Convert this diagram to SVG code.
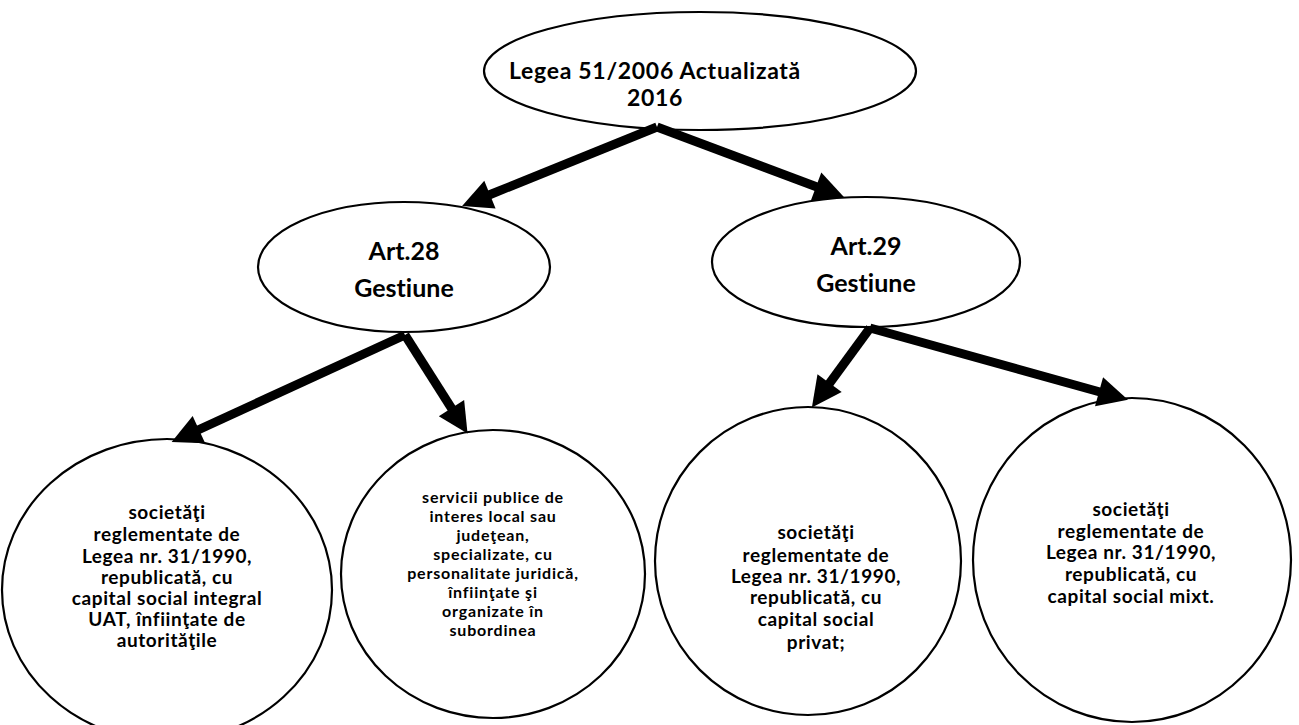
<svg xmlns="http://www.w3.org/2000/svg" width="1299" height="725" viewBox="0 0 1299 725">
<style>
.n{fill:#fff;stroke:#000;stroke-width:2.2}
.t{font-family:Lato,"Liberation Sans",sans-serif;font-weight:bold;fill:#000;text-anchor:middle;font-variant-ligatures:none}
.s{font-size:19px;letter-spacing:0.6px}
.c{stroke:#000;stroke-width:9;fill:none;marker-end:url(#ah)}
</style>
<defs>
<marker id="ah" markerUnits="userSpaceOnUse" markerWidth="32" markerHeight="32" viewBox="0 0 32 32" refX="1" refY="16" orient="auto" overflow="visible">
<path d="M0,1 L30,16 L0,31 z" fill="#000"/>
</marker>
</defs>
<rect width="1299" height="725" fill="#fff"/>
<g id="root">
<ellipse class="n" cx="700" cy="71" rx="216" ry="59"/>
<text class="t" x="655" y="79" font-size="23" letter-spacing="0.7">Legea 51/2006 Actualizată</text>
<text class="t" x="655" y="106" font-size="23" letter-spacing="0.7">2016</text>
</g>
<g id="art28">
<ellipse class="n" cx="404" cy="267" rx="146" ry="65"/>
<text class="t" x="404" y="260" font-size="25">Art.28</text>
<text class="t" x="404" y="297" font-size="25">Gestiune</text>
</g>
<g id="art29">
<ellipse class="n" cx="866" cy="262" rx="154" ry="65"/>
<text class="t" x="866" y="255" font-size="25">Art.29</text>
<text class="t" x="866" y="292" font-size="25">Gestiune</text>
</g>
<g id="c1">
<ellipse class="n" cx="167" cy="590" rx="165" ry="151"/>
<g class="t s">
<text x="167" y="519">societăţi</text>
<text x="167" y="541">reglementate de</text>
<text x="167" y="563">Legea nr. 31/1990,</text>
<text x="167" y="584">republicată, cu</text>
<text x="167" y="605">capital social integral</text>
<text x="167" y="626">UAT, înfiinţate de</text>
<text x="167" y="647">autorităţile</text>
</g>
</g>
<g id="c2">
<ellipse class="n" cx="493" cy="574" rx="152" ry="144"/>
<g class="t" font-size="16" letter-spacing="0.8">
<text x="493" y="503">servicii publice de</text>
<text x="493" y="522">interes local sau</text>
<text x="493" y="541">judeţean,</text>
<text x="493" y="560">specializate, cu</text>
<text x="493" y="579">personalitate juridică,</text>
<text x="493" y="598">înfiinţate şi</text>
<text x="493" y="617">organizate în</text>
<text x="493" y="636">subordinea</text>
</g>
</g>
<g id="c3">
<ellipse class="n" cx="808" cy="561" rx="153" ry="154"/>
<g class="t s">
<text x="816" y="539">societăţi</text>
<text x="816" y="562">reglementate de</text>
<text x="816" y="583">Legea nr. 31/1990,</text>
<text x="816" y="604">republicată, cu</text>
<text x="816" y="626">capital social</text>
<text x="816" y="649">privat;</text>
</g>
</g>
<g id="c4">
<ellipse class="n" cx="1132" cy="560" rx="159" ry="162"/>
<g class="t s">
<text x="1131" y="516">societăţi</text>
<text x="1131" y="538">reglementate de</text>
<text x="1131" y="559">Legea nr. 31/1990,</text>
<text x="1131" y="581">republicată, cu</text>
<text x="1131" y="603">capital social mixt.</text>
</g>
</g>
<g id="connectors">
<line class="c" x1="657" y1="127" x2="489" y2="195"/>
<line class="c" x1="657" y1="127" x2="817" y2="187"/>
<line class="c" x1="405" y1="335" x2="198" y2="430"/>
<line class="c" x1="405" y1="335" x2="452" y2="409"/>
<line class="c" x1="870" y1="328" x2="829" y2="384"/>
<line class="c" x1="870" y1="328" x2="1100" y2="392"/>
</g>
</svg>
